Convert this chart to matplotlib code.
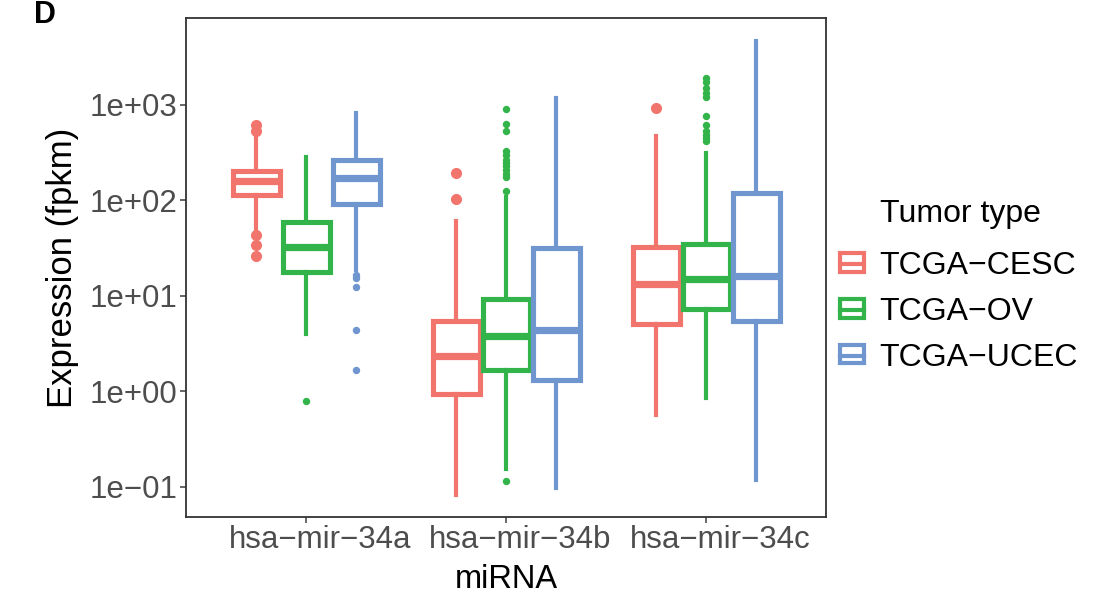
import matplotlib.pyplot as plt
import matplotlib.transforms as mtransforms
from matplotlib.patches import Patch
from matplotlib.lines import Line2D
import numpy as np

plt.rcParams['font.family'] = ['Liberation Sans', 'DejaVu Sans']

mirnas = ['hsa\u2212mir\u221234a', 'hsa\u2212mir\u221234b', 'hsa\u2212mir\u221234c']
tumors = ['TCGA\u2212CESC', 'TCGA\u2212OV', 'TCGA\u2212UCEC']
colors = ['#F2756D', '#33B44A', '#7096CF']

# box stats: [whislo, q1, med, q3, whishi] per tumor, per miRNA
cesc_stats = [[47, 113, 158, 200, 470], [0.082, 0.93, 2.32, 5.4, 60], [0.56, 5.0, 13.2, 32, 468]]
ov_stats = [[3.95, 17.6, 32, 59, 282], [0.152, 1.66, 3.77, 9.2, 108], [0.845, 7.2, 14.9, 34.6, 310]]
ucec_stats = [[18.5, 91, 170, 262, 815], [0.096, 1.3, 4.35, 31.4, 1170], [0.117, 5.4, 16, 118, 4600]]

cesc_out = [[26, 34, 43, 530, 615], [102, 191], [920]]
ov_out = [[0.785], [0.114, 124, 174, 187, 205, 228, 245, 262, 296, 326, 529, 627, 895],
          [415, 448, 480, 530, 615, 760, 1200, 1320, 1480, 1730, 1910]]
ucec_out = [[1.66, 4.35, 12.3, 15.2, 16.3], [], []]

all_stats = [cesc_stats, ov_stats, ucec_stats]
all_out = [cesc_out, ov_out, ucec_out]
flier_size = [7.0, 4.3, 4.3]

fig = plt.figure(figsize=(11.14, 5.93), dpi=100)
ax = fig.add_axes([186 / 1114, 1 - 517 / 593, 640 / 1114, 499 / 593])

offsets = [-0.25, 0.0, 0.25]
for t in range(3):
    c = colors[t]
    stats = []
    for m in range(3):
        lo, q1, med, q3, hi = all_stats[t][m]
        stats.append(dict(whislo=lo, q1=q1, med=med, q3=q3, whishi=hi,
                          fliers=all_out[t][m]))
    pos = [m + offsets[t] for m in range(3)]
    ax.bxp(stats, positions=pos, widths=0.235, patch_artist=True, showcaps=False,
           boxprops=dict(facecolor='white', edgecolor=c, linewidth=3.7),
           whiskerprops=dict(color=c, linewidth=3.0),
           medianprops=dict(color=c, linewidth=5.2, solid_capstyle='butt'),
           flierprops=dict(marker='o', markerfacecolor=c, markeredgecolor=c,
                           markersize=flier_size[t], linestyle='none'),
           manage_ticks=False)

ax.set_yscale('log')
ax.set_ylim(0.048, 8054)
ax.set_xlim(-0.6, 2.6)
ax.set_yticks([0.1, 1, 10, 100, 1000])
ax.set_yticklabels(['1e\u221201', '1e+00', '1e+01', '1e+02', '1e+03'])
ax.minorticks_off()
ax.set_xticks(range(3))
ax.set_xticklabels(mirnas)
ax.tick_params(axis='both', labelsize=22.5, colors='#4D4D4D', length=4, width=1.2,
               labelcolor='#4D4D4D', pad=2)
# labels in the reference sit a little right of their ticks
shift = mtransforms.ScaledTranslation(14 / 100, 0, fig.dpi_scale_trans)
for lab in ax.get_xticklabels():
    lab.set_transform(lab.get_transform() + shift)
for s in ax.spines.values():
    s.set_color('#333333')
    s.set_linewidth(1.3)
ax.set_xlabel('miRNA', fontsize=23.5, labelpad=6)
ax.set_ylabel('Expression (fpkm)', fontsize=25, labelpad=8)

handles = [(Patch(facecolor='white', edgecolor=c, linewidth=3.0),
            Line2D([], [], color=c, linewidth=3.0)) for c in colors]
leg = fig.legend(handles, tumors, loc='upper left',
                 bbox_to_anchor=(827 / 1114, 1 - 238 / 593), frameon=False,
                 fontsize=23, handlelength=0.75, handleheight=0.5,
                 handletextpad=0.5, labelspacing=0.5, borderaxespad=0)
fig.text(880 / 1114, 1 - 214 / 593, 'Tumor type', fontsize=23, va='center', ha='left')

fig.text(34 / 1114, 1.0, 'D', fontsize=22, fontweight='bold', va='top')

fig.savefig('out.png', dpi=100)
